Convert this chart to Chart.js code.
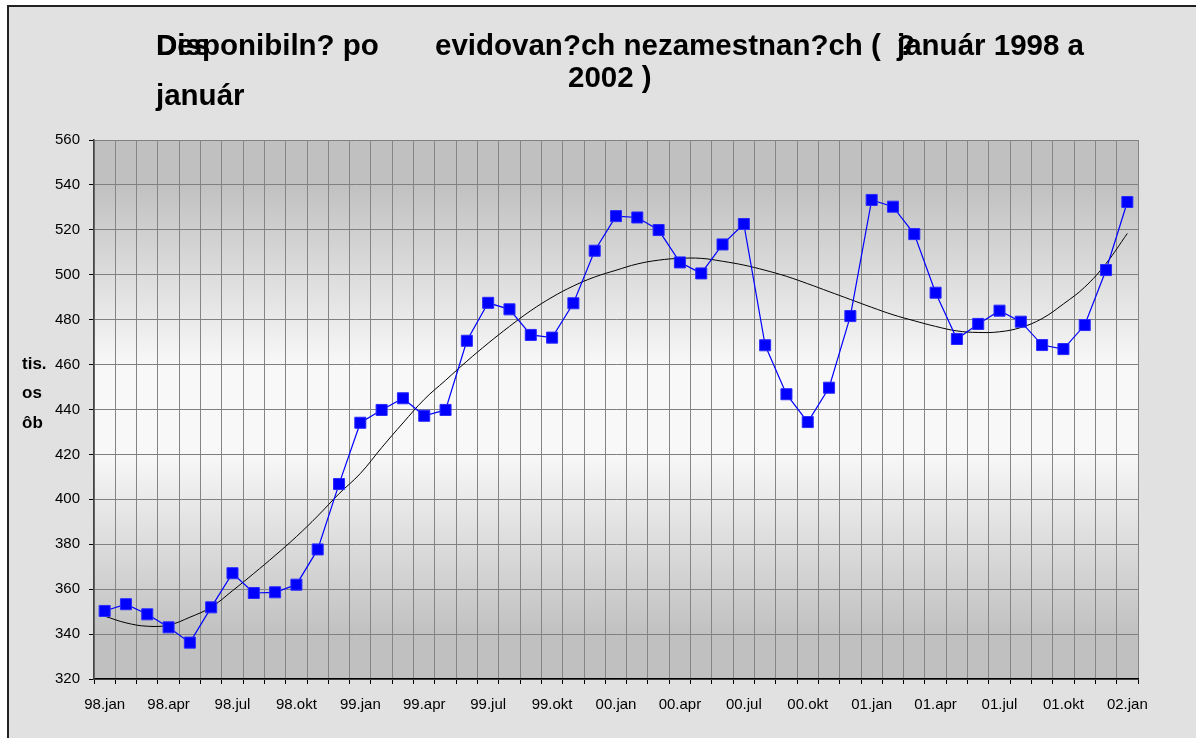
<!DOCTYPE html>
<html>
<head>
<meta charset="utf-8">
<script src="https://cdn.jsdelivr.net/npm/chart.js@4.4.0/dist/chart.umd.min.js"></script>
<style>
  body { margin: 0; background: #fff; }
  canvas { display: block; }
</style>
</head>
<body>
<canvas id="chart" width="1196" height="738"></canvas>
<script>
const FONT = "'Liberation Sans', Arial, sans-serif";

// mesiace 98.jan .. 02.jan
const labels = [
  '98.jan', '98.feb', '98.mar', '98.apr', '98.máj', '98.jún', '98.jul', '98.aug', '98.sep', '98.okt', '98.nov', '98.dec',
  '99.jan', '99.feb', '99.mar', '99.apr', '99.máj', '99.jún', '99.jul', '99.aug', '99.sep', '99.okt', '99.nov', '99.dec',
  '00.jan', '00.feb', '00.mar', '00.apr', '00.máj', '00.jún', '00.jul', '00.aug', '00.sep', '00.okt', '00.nov', '00.dec',
  '01.jan', '01.feb', '01.mar', '01.apr', '01.máj', '01.jún', '01.jul', '01.aug', '01.sep', '01.okt', '01.nov', '01.dec',
  '02.jan'
];

// disponibilni uchadzaci (tis. osob)
const unemployed = [
  350.3, 353.3, 348.8, 343.0, 336.2, 351.9, 367.1, 358.3, 358.6, 362.0, 377.7, 406.8,
  434.1, 439.8, 445.0, 437.2, 439.8, 470.6, 487.5, 484.6, 473.2, 472.0, 487.3, 510.7,
  526.1, 525.5, 519.9, 505.5, 500.6, 513.5, 522.6, 468.6, 446.8, 434.4, 449.7, 481.6,
  533.3, 530.3, 518.1, 492.0, 471.4, 478.1, 484.0, 479.1, 468.7, 466.9, 477.6, 502.1,
  532.4
];

// trend (odcitany z grafu)
const trend = [
  348.0, 345.0, 343.5, 344.0, 347.5, 352.0, 359.3, 367.0, 375.0, 383.4, 392.6, 402.5,
  411.5, 423.0, 434.0, 444.5, 453.0, 461.5, 469.5, 477.0, 484.0, 490.0, 495.0, 499.0,
  502.0, 504.8, 506.5, 507.3, 507.3, 506.0, 504.3, 502.0, 499.3, 496.0, 492.5, 489.0,
  485.5, 482.2, 479.5, 477.0, 475.0, 474.3, 474.6, 476.5, 480.5, 487.0, 494.5, 505.0,
  518.4
];

const yTicks = [320, 340, 360, 380, 400, 420, 440, 460, 480, 500, 520, 540, 560];
const yTitle = ['tis.', 'os', 'ôb'];

// pozadie, ramcek a gradient plochy grafu
const background = {
  id: 'background',
  beforeDraw(chart) {
    const { ctx, chartArea: a } = chart;
    ctx.save();
    ctx.fillStyle = '#ffffff';
    ctx.fillRect(0, 0, chart.width, chart.height);
    ctx.fillStyle = '#e1e1e1';
    ctx.fillRect(8, 6, chart.width, chart.height);
    ctx.strokeStyle = '#222';
    ctx.lineWidth = 2;
    ctx.beginPath();
    ctx.moveTo(8, chart.height);
    ctx.lineTo(8, 6);
    ctx.lineTo(chart.width, 6);
    ctx.stroke();

    const g = ctx.createLinearGradient(0, a.top, 0, a.bottom);
    g.addColorStop(0, '#c0c0c0');
    g.addColorStop(0.08, '#c0c0c0');
    g.addColorStop(0.42, '#f8f8f8');
    g.addColorStop(0.58, '#f8f8f8');
    g.addColorStop(0.92, '#c0c0c0');
    g.addColorStop(1, '#c0c0c0');
    ctx.fillStyle = g;
    ctx.fillRect(a.left, a.top, a.right - a.left, a.bottom - a.top);
    ctx.restore();
  }
};

// nadpis (tak ako je v povodnom obrazku) a popis osi y
const texts = {
  id: 'texts',
  afterDraw(chart) {
    const ctx = chart.ctx;
    ctx.save();
    ctx.fillStyle = '#000';
    ctx.textBaseline = 'alphabetic';
    ctx.textAlign = 'left';
    ctx.font = 'bold 29.5px ' + FONT;
    ctx.fillText('Disponibiln? po', 156, 55);
    ctx.fillText('Des', 156, 55);
    ctx.fillText('evidovan?ch nezamestnan?ch (', 435, 55);
    ctx.fillText('január 1998 a', 897, 55);
    ctx.fillText('?', 897, 55);
    ctx.fillText('2002 )', 568, 87);
    ctx.fillText('január', 156, 105);

    ctx.font = 'bold 17px ' + FONT;
    ctx.textBaseline = 'middle';
    yTitle.forEach((t, i) => ctx.fillText(t, 22, 364 + i * 29.5));
    ctx.restore();
  }
};

const ctx = document.getElementById('chart');

const data = {
  labels: labels,
  datasets: [{
    label: 'nezamestnaní',
    data: unemployed,
    borderColor: '#0000ff',
    borderWidth: 1.2,
    backgroundColor: '#0000ff',
    pointStyle: 'rect',
    pointRadius: 7.8,
    pointBorderColor: '#2a2aff',
    pointBorderWidth: 1,
    tension: 0
  }, {
    label: 'trend',
    data: trend,
    borderColor: '#000000',
    borderWidth: 1,
    pointRadius: 0,
    tension: 0.4
  }]
};

const config = {
  type: 'line',
  data: data,
  options: {
    responsive: false,
    animation: false,
    layout: { padding: { top: 140, right: 58, left: 0, bottom: 0 } },
    plugins: {
      legend: { display: false },
      title: { display: false },
      tooltip: { enabled: false }
    },
    scales: {
      x: {
        offset: true,
        grid: { offset: true, color: '#858585', lineWidth: 1, tickLength: 5, tickColor: '#000' },
        border: { color: '#000', width: 1.5 },
        ticks: {
          autoSkip: false, maxRotation: 0, minRotation: 0, padding: 12, color: '#000',
          font: { size: 15, family: FONT },
          callback: (v, i) => i % 3 === 0 ? labels[i] : ''
        },
        afterFit: s => { s.height = 59; }
      },
      y: {
        min: yTicks[0],
        max: yTicks[yTicks.length - 1],
        grid: { color: '#808080', lineWidth: 1, tickLength: 5, tickColor: '#000' },
        border: { color: '#444', width: 1.5 },
        ticks: {
          stepSize: yTicks[1] - yTicks[0], padding: 9, color: '#000',
          font: { size: 15, family: FONT }
        },
        afterFit: s => { s.width = 94; }
      }
    }
  },
  plugins: [background, texts]
};

new Chart(ctx, config);
</script>
</body>
</html>
